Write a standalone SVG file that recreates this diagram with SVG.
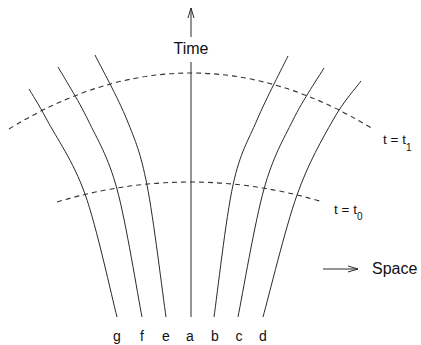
<svg xmlns="http://www.w3.org/2000/svg" width="421" height="345" viewBox="0 0 421 345">
  <style>
    .wl { fill: none; stroke: #2a2a2a; stroke-width: 1; }
    .dash { fill: none; stroke: #333; stroke-width: 1.1; stroke-dasharray: 5 4; }
    .ax { fill: none; stroke: #2a2a2a; stroke-width: 1; }
    .t { font-family: "Liberation Sans", Arial, sans-serif; fill: #111; }
    .lbl { font-size: 14px; text-anchor: middle; }
  </style>
  <defs>
    <marker id="ah" viewBox="0 0 10 8" refX="10" refY="4" markerWidth="10" markerHeight="8" markerUnits="userSpaceOnUse" orient="auto">
      <path d="M0,1 L10,4 L0,7" fill="none" stroke="#2a2a2a" stroke-width="1"/>
    </marker>
  </defs>
  <rect width="421" height="345" fill="#fff"/>

  <g id="surfaces">
    <path id="t1-surface" class="dash" d="M9,129 Q191,17 373,129"/>
    <path id="t0-surface" class="dash" d="M57,202 Q190,162 323,202"/>
  </g>

  <g id="worldline-g"><path class="wl" d="M117,317 C111.7,296.5 96.7,226.8 85,194 C73.3,161.2 56.3,137.5 47,120 C37.7,102.5 32,94.2 29,89"/></g>
  <g id="worldline-f"><path class="wl" d="M142,317 C137.8,295.7 126,221.8 117,189 C108,156.2 97.8,140.3 88,120 C78.2,99.7 63,75.8 58,67"/></g>
  <g id="worldline-e"><path class="wl" d="M166,317 C162.8,295 153.5,217.8 147,185 C140.5,152.2 135.7,141.7 127,120 C118.3,98.3 100.3,65.8 95,55"/></g>
  <g id="worldline-b"><path class="wl" d="M214,317 C217.2,295 225.8,217.8 233,185 C240.2,152.2 247.8,141.5 257,120 C266.2,98.5 282.8,66.7 288,56"/></g>
  <g id="worldline-c"><path class="wl" d="M238,317 C242.3,295.7 254.8,221.8 264,189 C273.2,156.2 283,140.2 293,120 C303,99.8 318.8,76.7 324,68"/></g>
  <g id="worldline-d"><path class="wl" d="M263,317 C268.7,296.7 285.3,227.8 297,195 C308.7,162.2 322.3,139 333,120 C343.7,101 356.3,87.5 361,81"/></g>

  <g id="connectors">
    <path id="worldline-a" class="ax" d="M191,317 L191,62"/>
    <path id="time-arrow" class="ax" d="M191,37 L191,8" marker-end="url(#ah)"/>
    <path id="space-arrow" class="ax" d="M323,269 L358,269" marker-end="url(#ah)"/>
  </g>

  <g id="axis-labels" class="t">
    <text x="191" y="54" font-size="16" text-anchor="middle">Time</text>
    <text x="372" y="274" font-size="16">Space</text>
  </g>

  <g id="surface-labels" class="t">
    <text x="383" y="144" font-size="13.5">t = t<tspan font-size="10" dy="7">1</tspan></text>
    <text x="334" y="214" font-size="13.5">t = t<tspan font-size="10" dy="6">0</tspan></text>
  </g>

  <g id="line-labels" class="t lbl">
    <text x="117" y="341">g</text>
    <text x="142" y="341">f</text>
    <text x="166" y="341">e</text>
    <text x="190" y="341">a</text>
    <text x="215" y="341">b</text>
    <text x="239" y="341">c</text>
    <text x="263" y="341">d</text>
  </g>
</svg>
